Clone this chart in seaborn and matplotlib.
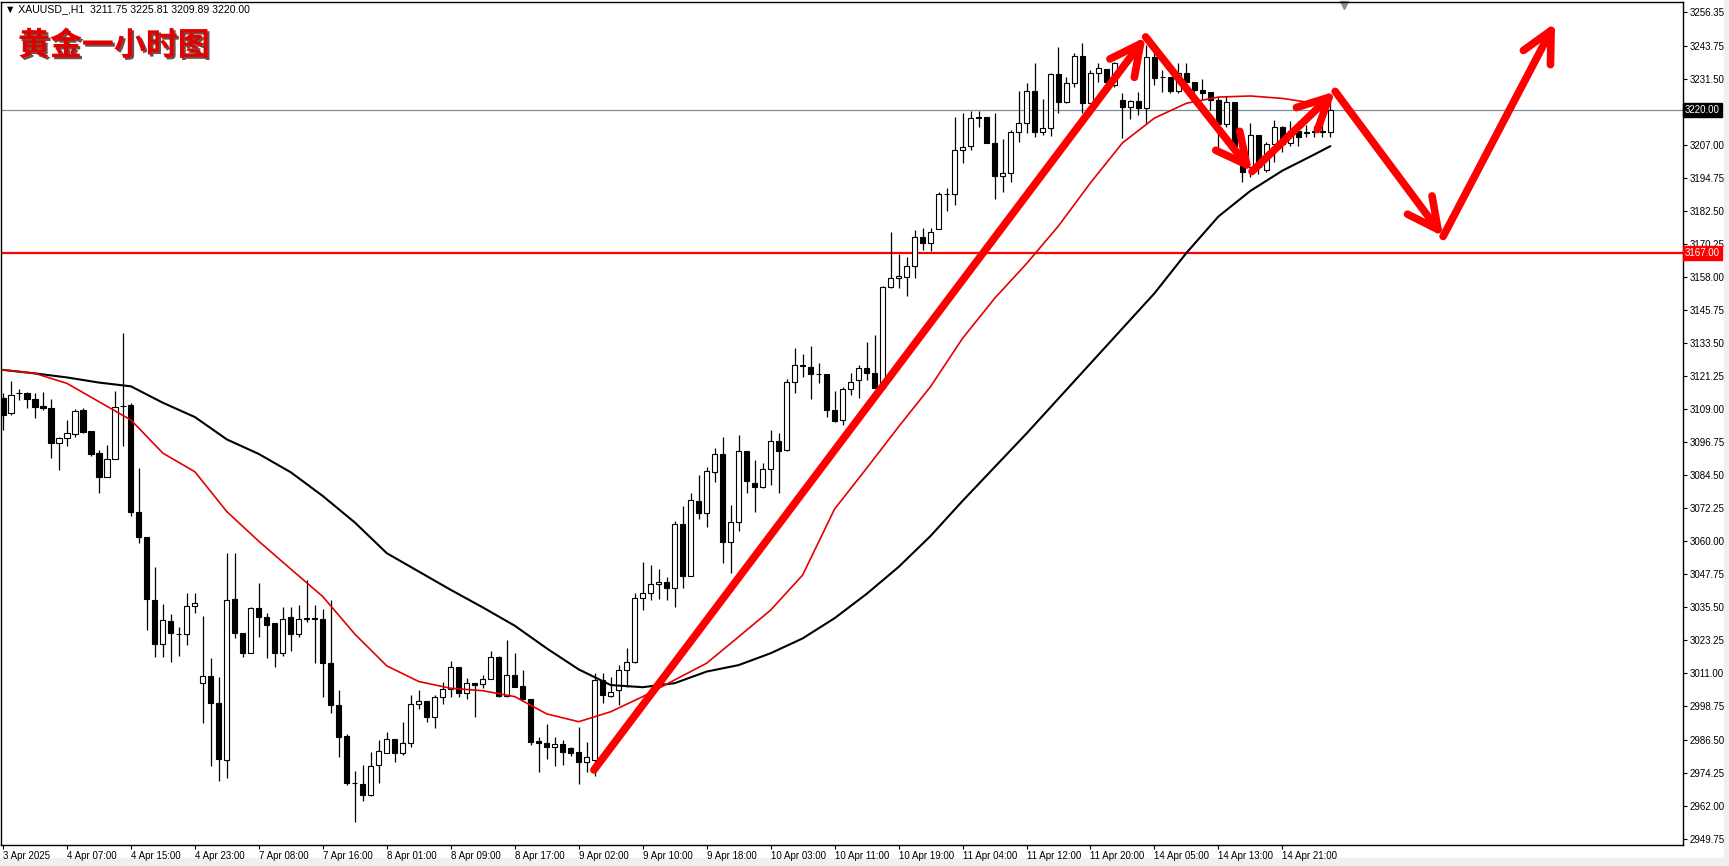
import numpy as np
import pandas as pd
import matplotlib
matplotlib.use("Agg")
import matplotlib.pyplot as plt
import seaborn as sns
from matplotlib import patheffects as pe
from matplotlib.patches import Rectangle
from matplotlib.transforms import blended_transform_factory

# XAUUSD H1 candles (bar 0 = 3 Apr 23:00)
opens = [3113.0, 3107.5, 3115.0, 3114.9, 3112.7, 3110.2, 3109.3, 3096.4, 3098.2, 3099.8,
         3108.7, 3101.1, 3092.7, 3083.8, 3090.4, 3110.2, 3110.6, 3071.0, 3061.5, 3038.3,
         3021.8, 3030.6, 3025.6, 3025.6, 3036.2, 3007.4, 3010.1, 3000.0, 2978.9, 3038.5,
         3025.9, 3018.7, 3035.2, 3031.8, 3029.6, 3018.5, 3031.8, 3025.5, 3031.3, 3031.3,
         3031.1, 3015.0, 2999.3, 2987.8, 2970.3, 2970.0, 2965.8, 2976.9, 2981.4, 2986.6,
         2981.4, 2985.3, 2999.6, 3000.9, 2994.7, 3002.2, 3005.1, 3013.3, 3003.6, 3007.3,
         3007.1, 3008.8, 3017.2, 3002.7, 3010.4, 3006.4, 3001.4, 2985.9, 2985.1, 2983.6,
         2984.8, 2983.2, 2981.7, 2978.3, 2979.0, 3008.6, 3002.6, 3004.9, 3012.3, 3015.4,
         3038.9, 3040.7, 3044.1, 3044.8, 3042.6, 3066.4, 3047.3, 3075.0, 3070.4, 3085.9,
         3092.3, 3059.6, 3067.0, 3093.5, 3081.5, 3080.0, 3086.7, 3097.2, 3093.9, 3119.1,
         3125.2, 3124.8, 3122.1, 3122.1, 3108.7, 3105.0, 3116.4, 3119.9, 3124.4, 3122.6,
         3116.8, 3154.2, 3157.6, 3158.2, 3162.3, 3173.0, 3170.5, 3175.7, 3188.8, 3188.8,
         3205.2, 3206.6, 3217.2, 3217.3, 3207.9, 3195.5, 3196.5, 3212.0, 3215.3, 3227.2,
         3212.0, 3213.2, 3233.3, 3223.1, 3229.9, 3240.0, 3222.7, 3233.6, 3235.1, 3229.3,
         3223.7, 3221.0, 3223.5, 3220.6, 3239.5, 3232.1, 3232.4, 3227.2, 3233.8, 3230.5,
         3227.4, 3226.8, 3223.7, 3214.8, 3223.1, 3207.0, 3199.0, 3210.7, 3197.8, 3207.4,
         3213.6, 3207.6, 3212.3, 3211.6, 3212.0, 3212.0, 3211.75]
highs = [3114.9, 3119.6, 3116.4, 3115.5, 3114.9, 3115.3, 3112.7, 3098.8, 3105.0, 3109.0,
         3109.3, 3101.1, 3093.9, 3095.8, 3115.9, 3137.3, 3111.4, 3087.1, 3061.5, 3050.4,
         3036.8, 3033.1, 3028.4, 3040.7, 3040.7, 3032.3, 3016.6, 3009.8, 3055.6, 3055.8,
         3025.9, 3035.5, 3044.7, 3033.3, 3029.6, 3035.5, 3035.5, 3036.4, 3045.7, 3036.4,
         3034.8, 3038.3, 3004.9, 2988.5, 2975.0, 2977.1, 2982.0, 2986.3, 2989.1, 2986.6,
         2992.9, 3003.0, 3004.9, 3000.9, 3003.0, 3008.0, 3015.8, 3013.3, 3009.2, 3007.6,
         3010.4, 3019.5, 3017.5, 3023.4, 3018.5, 3012.3, 3001.4, 2987.3, 2992.3, 2987.6,
         2986.3, 2983.8, 2991.3, 2985.7, 3011.0, 3011.1, 3009.8, 3014.1, 3020.3, 3040.7,
         3052.5, 3051.2, 3049.6, 3046.9, 3067.7, 3073.1, 3077.8, 3084.6, 3087.7, 3094.5,
         3098.8, 3073.5, 3099.3, 3093.5, 3090.2, 3088.9, 3101.3, 3100.1, 3120.1, 3131.6,
         3129.5, 3132.5, 3126.3, 3122.1, 3115.9, 3117.4, 3122.6, 3125.4, 3133.8, 3136.5,
         3154.7, 3174.9, 3166.6, 3165.4, 3175.5, 3176.1, 3176.1, 3189.7, 3190.9, 3217.5,
         3219.0, 3219.7, 3219.7, 3217.5, 3218.8, 3209.1, 3212.6, 3227.2, 3230.1, 3237.3,
         3224.0, 3233.6, 3243.5, 3232.4, 3241.3, 3244.7, 3234.8, 3237.6, 3235.1, 3237.9,
         3226.2, 3223.7, 3226.8, 3244.1, 3241.6, 3234.8, 3232.4, 3237.3, 3237.3, 3230.5,
         3231.4, 3226.8, 3224.7, 3225.2, 3223.1, 3210.1, 3215.0, 3210.7, 3208.3, 3216.3,
         3214.1, 3216.0, 3216.0, 3214.4, 3214.1, 3215.0, 3225.81]
lows = [3101.3, 3106.9, 3112.4, 3109.3, 3105.6, 3108.7, 3090.8, 3086.5, 3095.4, 3098.6,
        3100.3, 3091.7, 3078.1, 3083.8, 3090.4, 3095.4, 3069.4, 3059.5, 3027.1, 3017.0,
        3017.2, 3015.4, 3017.5, 3021.6, 3033.5, 2992.5, 2976.7, 2971.2, 2972.1, 3024.0,
        3017.0, 3018.7, 3024.6, 3016.6, 3013.5, 3017.5, 3019.5, 3024.6, 3030.0, 3014.8,
        3002.2, 2996.5, 2979.9, 2969.5, 2956.0, 2963.8, 2965.6, 2970.3, 2981.4, 2978.3,
        2980.8, 2983.6, 2997.7, 2993.1, 2990.9, 2999.7, 3002.4, 3002.2, 3001.4, 2994.7,
        3005.6, 3008.8, 3002.2, 3002.4, 3005.9, 3001.2, 2984.3, 2974.6, 2979.3, 2976.7,
        2977.1, 2980.2, 2970.0, 2974.6, 2973.0, 2999.9, 3002.4, 2999.3, 3006.1, 3014.8,
        3034.5, 3038.3, 3038.5, 3038.3, 3035.8, 3042.6, 3047.3, 3068.2, 3065.2, 3082.1,
        3051.9, 3048.4, 3064.0, 3077.8, 3071.0, 3079.7, 3081.0, 3078.1, 3093.6, 3114.9,
        3120.8, 3112.7, 3118.6, 3106.3, 3104.4, 3103.2, 3114.3, 3113.1, 3119.9, 3116.8,
        3116.0, 3153.9, 3153.9, 3151.0, 3157.6, 3168.1, 3167.8, 3175.7, 3182.7, 3184.8,
        3200.5, 3205.2, 3213.6, 3207.6, 3186.9, 3189.7, 3193.4, 3208.3, 3211.3, 3209.9,
        3210.7, 3210.4, 3219.0, 3222.5, 3228.7, 3219.0, 3222.5, 3230.5, 3228.7, 3228.7,
        3209.5, 3216.5, 3218.1, 3215.0, 3229.3, 3226.8, 3226.4, 3226.2, 3227.2, 3226.8,
        3223.7, 3220.0, 3205.8, 3213.6, 3204.5, 3193.4, 3195.3, 3196.3, 3197.1, 3200.8,
        3204.5, 3206.6, 3206.6, 3210.1, 3210.1, 3210.1, 3209.89]
closes = [3106.9, 3114.3, 3115.2, 3112.7, 3110.0, 3109.3, 3096.4, 3098.2, 3100.3, 3108.5,
          3100.7, 3092.4, 3084.0, 3090.4, 3110.0, 3110.2, 3071.0, 3061.5, 3038.5, 3021.8,
          3030.8, 3025.9, 3025.6, 3036.2, 3037.0, 3010.1, 3000.0, 2979.2, 3038.3, 3025.9,
          3018.7, 3035.2, 3031.8, 3029.0, 3018.5, 3031.1, 3025.5, 3031.1, 3031.3, 3031.3,
          3015.0, 2999.3, 2987.6, 2970.5, 2970.3, 2965.8, 2976.7, 2982.2, 2986.6, 2981.4,
          2985.3, 2999.6, 3000.9, 2994.7, 3002.2, 3005.1, 3013.3, 3003.6, 3007.3, 3006.6,
          3008.8, 3017.2, 3002.7, 3010.4, 3006.1, 3001.4, 2985.7, 2985.1, 2983.6, 2984.8,
          2982.0, 2981.6, 2978.3, 2980.1, 3008.6, 3003.0, 3004.2, 3012.3, 3015.4, 3038.9,
          3041.0, 3044.1, 3044.8, 3042.6, 3066.4, 3047.3, 3075.3, 3070.4, 3086.1, 3092.3,
          3059.9, 3067.0, 3093.5, 3082.5, 3080.0, 3086.7, 3097.2, 3093.6, 3119.1, 3125.4,
          3125.2, 3122.1, 3122.1, 3108.7, 3104.8, 3116.4, 3119.2, 3124.2, 3122.6, 3116.8,
          3154.2, 3157.6, 3158.4, 3162.3, 3173.0, 3170.5, 3174.9, 3188.7, 3188.8, 3205.2,
          3206.4, 3216.9, 3217.2, 3207.9, 3195.5, 3196.5, 3212.0, 3215.3, 3227.2, 3212.0,
          3213.2, 3233.3, 3223.1, 3229.9, 3240.0, 3222.7, 3233.6, 3235.5, 3230.5, 3237.6,
          3221.0, 3223.5, 3220.6, 3239.5, 3231.7, 3232.1, 3227.2, 3233.6, 3230.5, 3227.4,
          3226.4, 3223.7, 3214.8, 3223.1, 3206.6, 3197.1, 3210.7, 3199.0, 3207.4, 3213.6,
          3207.4, 3212.3, 3210.1, 3211.6, 3212.0, 3212.0, 3220.00]

# moving averages sampled every 4 bars
ma_bars = list(range(0, 165, 4)) + [166]
red_ma = [3123.6, 3122.3, 3118.6, 3111.8, 3105.0, 3092.7, 3085.8, 3071.0, 3060.0, 3049.7,
          3039.5, 3025.6, 3013.8, 3008.0, 3005.5, 3004.6, 3002.4, 2996.0, 2993.1, 2996.8,
          3002.4, 3008.6, 3014.8, 3024.6, 3034.5, 3047.5, 3072.0, 3087.1, 3102.5, 3117.4,
          3135.3, 3150.1, 3163.0, 3177.0, 3193.0, 3207.8, 3217.0, 3222.5, 3224.8, 3225.2,
          3224.3, 3222.5, 3221.5]
black_ma = [3123.6, 3122.3, 3120.8, 3118.9, 3117.5, 3111.4, 3106.1, 3097.8, 3092.4, 3085.6,
            3076.8, 3067.0, 3055.6, 3048.8, 3042.0, 3035.5, 3028.7, 3020.3, 3012.5, 3006.7,
            3005.9, 3007.4, 3011.7, 3014.1, 3018.5, 3024.0, 3031.5, 3040.5, 3050.5, 3062.0,
            3075.0, 3087.5, 3100.0, 3113.0, 3126.0, 3139.0, 3152.0, 3167.0, 3180.5, 3190.0,
            3197.5, 3203.5, 3206.6]

time_labels = ["3 Apr 2025", "4 Apr 07:00", "4 Apr 15:00", "4 Apr 23:00", "7 Apr 08:00",
               "7 Apr 16:00", "8 Apr 01:00", "8 Apr 09:00", "8 Apr 17:00", "9 Apr 02:00",
               "9 Apr 10:00", "9 Apr 18:00", "10 Apr 03:00", "10 Apr 11:00", "10 Apr 19:00",
               "11 Apr 04:00", "11 Apr 12:00", "11 Apr 20:00", "14 Apr 05:00", "14 Apr 13:00",
               "14 Apr 21:00"]
price_ticks = [2949.75, 2962.00, 2974.25, 2986.50, 2998.75, 3011.00, 3023.25, 3035.50,
               3047.75, 3060.00, 3072.25, 3084.50, 3096.75, 3109.00, 3121.25, 3133.50,
               3145.75, 3158.00, 3170.25, 3182.50, 3194.75, 3207.00, 3231.50, 3243.75, 3256.35]

last_price = 3220.00
level_price = 3167.00

# hand-drawn forecast path (bar index, price)
arrow_bar = [73.9, 142.9, 156.2, 166.6, 180.1, 194.1]
arrow_price = [2975.2, 3247.1, 3197.2, 3226.9, 3173.1, 3252.3]

df = pd.DataFrame({"o": opens, "h": highs, "l": lows, "c": closes})
df["i"] = np.arange(len(df))
df["up"] = df.c >= df.o

sns.set_style("white")
plt.rcParams["font.family"] = ["Liberation Sans", "DejaVu Sans"]
FS = 7.0

fig = plt.figure(figsize=(17.29, 8.66), dpi=100)
ax = fig.add_axes([1 / 1729, 21 / 866, 1682 / 1729, 843 / 866])

ax.axhline(last_price, color="#7b8b9b", lw=0.9, zorder=1)
ax.axhline(level_price, color="#ff0000", lw=1.6, zorder=1)

# candles
ax.vlines(df.i, df.l, df.h, color="black", lw=0.9, zorder=2)
ax.bar(df.i, (df.c - df.o).abs().clip(lower=0.15), bottom=df[["o", "c"]].min(axis=1),
       width=0.64, color=np.where(df.up, "white", "black"), edgecolor="black",
       linewidth=0.8, zorder=3)

sns.lineplot(x=ma_bars, y=black_ma, color="black", lw=1.5, ax=ax, zorder=4, estimator=None)
sns.lineplot(x=ma_bars, y=red_ma, color="#e30000", lw=1.2, ax=ax, zorder=4, estimator=None)

for k in range(len(arrow_bar) - 1):
    ax.annotate("", xy=(arrow_bar[k + 1], arrow_price[k + 1]),
                xytext=(arrow_bar[k], arrow_price[k]),
                arrowprops=dict(arrowstyle="->,head_length=1.1,head_width=0.55",
                                color="#ff0000", lw=5.5, shrinkA=0, shrinkB=0,
                                mutation_scale=20),
                zorder=6)

ax.set_xlim(-0.25, 210.1)
ax.set_ylim(2947.37, 3260.06)

ax.set_xticks(range(0, 8 * len(time_labels), 8))
ax.set_xticklabels(time_labels)
for t in ax.get_xticklabels():
    t.set_ha("left")
ax.yaxis.tick_right()
ax.set_yticks(price_ticks)
ax.set_yticklabels([f"{v:.2f}" for v in price_ticks])
ax.tick_params(axis="both", direction="out", length=3, width=0.8, labelsize=FS,
               colors="black", pad=2)
ax.tick_params(axis="x", bottom=True, pad=1.5)
ax.tick_params(axis="y", right=True, left=False, pad=2)
for s in ax.spines.values():
    s.set_color("black")
    s.set_linewidth(1.0)
ax.set_xlabel("")
ax.set_ylabel("")

# price boxes on the axis
tr = blended_transform_factory(ax.transAxes, ax.transData)
ax.text(1.0012, last_price, f"{last_price:.2f}", transform=tr, fontsize=FS, color="white",
        va="center", ha="left", bbox=dict(boxstyle="square,pad=0.2", fc="black", ec="black"))
ax.text(1.0012, level_price, f"{level_price:.2f}", transform=tr, fontsize=FS, color="white",
        va="center", ha="left", bbox=dict(boxstyle="square,pad=0.2", fc="#ff0000", ec="#ff0000"))

# chart shift marker
ax.plot([167.75], [0.997], marker="v", color="#8c8c8c", ms=6, clip_on=False,
        transform=blended_transform_factory(ax.transData, ax.transAxes))

fig.text(5 / 1729, 1 - 9 / 866,
         f"\u25bc XAUUSD_,H1  {opens[-1]:.2f} {highs[-1]:.2f} {lows[-1]:.2f} {closes[-1]:.2f}",
         fontsize=7.6, va="center", ha="left", color="black")
fig.text(18 / 1729, 1 - 46 / 866, "黄金一小时图", fontsize=23, fontweight="bold",
         color="#e00000", family=["Noto Sans CJK SC", "DejaVu Sans"], va="center", ha="left",
         path_effects=[pe.withSimplePatchShadow(offset=(1.5, -1.5), shadow_rgbFace="#3a0000",
                                                alpha=0.7)])

fig.patches.append(Rectangle((0, 0), 1, 8 / 866, transform=fig.transFigure,
                             color="#f0f0f0", zorder=-1))
fig.patches.append(Rectangle((1724 / 1729, 0), 5 / 1729, 1, transform=fig.transFigure,
                             color="#f0f0f0", zorder=-1))

fig.savefig("out.png", dpi=100)
